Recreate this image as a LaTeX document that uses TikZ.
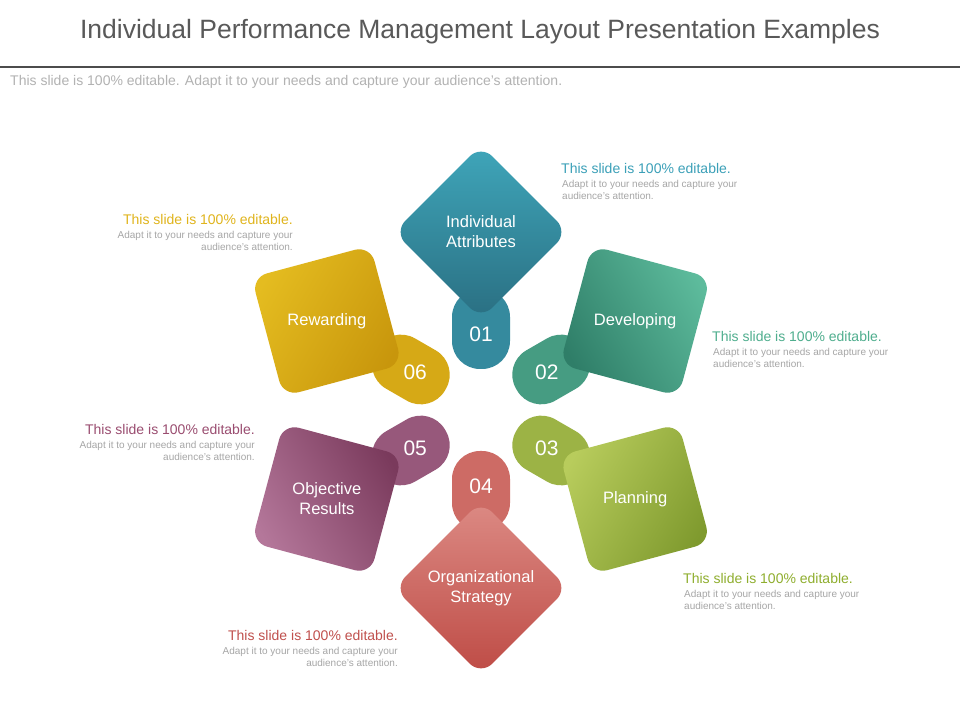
\documentclass[tikz,border=0pt]{standalone}
\usepackage{fontspec}
\setmainfont{Liberation Sans}
\usetikzlibrary{calc}
\begin{document}
\begin{tikzpicture}[x=1pt,y=1pt,
  sq/.style={rounded corners=16pt,minimum size=123pt,inner sep=0pt},
  tab/.style={rounded corners=28pt,minimum width=58pt,minimum height=80pt,inner sep=0pt},
  num/.style={text=white,font=\fontsize{21}{24}\selectfont},
  lab/.style={text=white,font=\fontsize{16.5}{20}\selectfont,align=center},
  cth/.style={font=\fontsize{14}{16}\selectfont,inner sep=0pt},
  ctx/.style={text=black!35,font=\fontsize{10}{12.5}\selectfont,inner sep=0pt}]
\useasboundingbox (0,0) rectangle (960,720);
\fill[white] (0,0) rectangle (960,720);
\node[text=black!65,font=\fontsize{26.5}{30}\selectfont] (title) at (480,688) {Individual Performance Management Layout Presentation Examples};
\draw[black!70,line width=2pt] (0,653) -- (960,653);
\node[anchor=west,text=black!30,font=\fontsize{14}{16}\selectfont,inner sep=0pt] (sub) at (10,638) {This slide is 100\% editable. Adapt it to your needs and capture your audience's attention.};
\definecolor{cA1}{HTML}{3FA6BA}\definecolor{cA2}{HTML}{2A6F82}
\definecolor{cB1}{HTML}{5DBB9C}\definecolor{cB2}{HTML}{2F7E68}
\definecolor{cC1}{HTML}{7F9A2E}\definecolor{cC2}{HTML}{B8CC5C}
\definecolor{cD1}{HTML}{BE4B45}\definecolor{cD2}{HTML}{DC8A84}
\definecolor{cE1}{HTML}{B4779A}\definecolor{cE2}{HTML}{7A3A5C}
\definecolor{cF1}{HTML}{E4BC20}\definecolor{cF2}{HTML}{C8960C}
\coordinate (C) at (481,310);
\foreach \a/\n/\ca/\cb/\t in {90/01/cA1/cA2/{Individual\\Attributes},30/02/cB1/cB2/Developing,-30/03/cC1/cC2/Planning,-90/04/cD1/cD2/{Organizational\\Strategy},-150/05/cE1/cE2/{Objective\\Results},150/06/cF1/cF2/Rewarding}{
  \node[tab,fill=\ca!50!\cb,rotate=\a-90] (tab\n) at ($(C)+(\a:81)$) {};
  \node[sq,top color=\ca,bottom color=\cb,rotate=\a-45,shading angle=\a-90] (sq\n) at ($(C)+(\a:178)$) {};
  \node[num] (n\n) at ($(C)+(\a:76)$) {\n};
  \node[lab] (l\n) at ($(C)+(\a:178)$) {\t};
}
\definecolor{tA}{HTML}{3BA0B8}\definecolor{tB}{HTML}{4FAE8E}\definecolor{tC}{HTML}{8FAE2E}
\definecolor{tD}{HTML}{C0504D}\definecolor{tE}{HTML}{9A4D70}\definecolor{tF}{HTML}{E0B41C}
\node[cth,anchor=north west,text=tA] (ta) at (561,557) {This slide is 100\% editable.};
\node[ctx,anchor=north west,align=left] (xa) at (562,540) {Adapt it to your needs and capture your\\audience's attention.};
\node[cth,anchor=north west,text=tB] (tb) at (712,389) {This slide is 100\% editable.};
\node[ctx,anchor=north west,align=left] (xb) at (713,372) {Adapt it to your needs and capture your\\audience's attention.};
\node[cth,anchor=north west,text=tC] (tc) at (683,147) {This slide is 100\% editable.};
\node[ctx,anchor=north west,align=left] (xc) at (684,130) {Adapt it to your needs and capture your\\audience's attention.};
\node[cth,anchor=north east,text=tD] (td) at (398,90) {This slide is 100\% editable.};
\node[ctx,anchor=north east,align=right] (xd) at (398,73) {Adapt it to your needs and capture your\\audience's attention.};
\node[cth,anchor=north east,text=tE] (te) at (255,296) {This slide is 100\% editable.};
\node[ctx,anchor=north east,align=right] (xe) at (255,279) {Adapt it to your needs and capture your\\audience's attention.};
\node[cth,anchor=north east,text=tF] (tf) at (293,506) {This slide is 100\% editable.};
\node[ctx,anchor=north east,align=right] (xf) at (293,489) {Adapt it to your needs and capture your\\audience's attention.};
\end{tikzpicture}
\end{document}
